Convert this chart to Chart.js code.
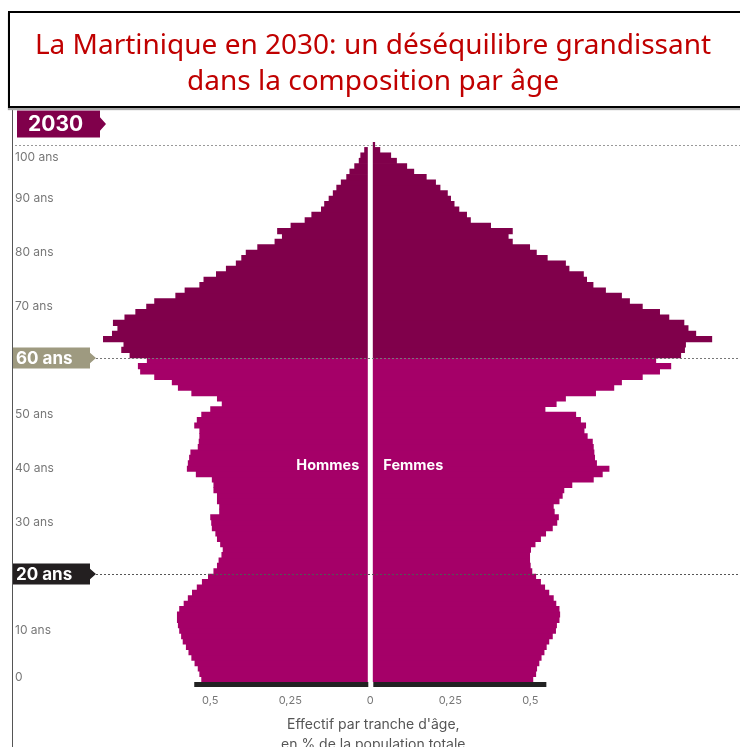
<!DOCTYPE html>
<html>
<head>
<meta charset="utf-8">
<script src="https://cdn.jsdelivr.net/npm/chart.js@4.4.1/dist/chart.umd.min.js"></script>
<style>
  html, body { margin: 0; padding: 0; background: #fff; }
  #wrap { position: relative; width: 740px; height: 747px; overflow: hidden; }
  #frame { position: absolute; left: 12px; top: 106px; width: 1px; height: 660px; background: #555; }
  #title {
    position: absolute; left: 8px; top: 11px; width: 726px; height: 81px;
    padding: 12px 30px 0 0; border: 2px solid #000; box-shadow: 0 2px 1px #aaa;
    background: #fff; color: #c00000; font-family: "Noto Sans", sans-serif;
    font-size: 28px; line-height: 36px; text-align: center; z-index: 2;
  }
  canvas { position: absolute; left: 0; top: 0; }
</style>
</head>
<body>
<div id="wrap">
  <div id="title">La Martinique en 2030: un déséquilibre grandissant<br>dans la composition par âge</div>
  <div id="frame"></div>
  <canvas id="pyramid" width="740" height="747"></canvas>
</div>
<script>
// ages 0 .. 99, one bar each
const AGES = Array.from({ length: 100 }, (_, i) => i)

// % of total population (age 0 first)
const MEN = [
  0.527, 0.533, 0.538, 0.548, 0.558, 0.567, 0.575, 0.585, 0.590, 0.596,
  0.600, 0.603, 0.603, 0.596, 0.582, 0.569, 0.556, 0.541, 0.525, 0.506,
  0.489, 0.478, 0.473, 0.464, 0.460, 0.468, 0.478, 0.483, 0.494, 0.496,
  0.499, 0.471, 0.471, 0.478, 0.478, 0.489, 0.489, 0.494, 0.544, 0.572,
  0.569, 0.565, 0.561, 0.538, 0.535, 0.533, 0.533, 0.549, 0.541, 0.527,
  0.499, 0.463, 0.478, 0.558, 0.600, 0.619, 0.674, 0.718, 0.725, 0.697,
  0.751, 0.777, 0.770, 0.834, 0.806, 0.789, 0.803, 0.767, 0.733, 0.699,
  0.674, 0.608, 0.579, 0.533, 0.520, 0.481, 0.450, 0.419, 0.402, 0.388,
  0.352, 0.298, 0.275, 0.290, 0.248, 0.204, 0.183, 0.153, 0.143, 0.129,
  0.116, 0.105, 0.091, 0.074, 0.064, 0.049, 0.035, 0.030, 0.018, 0.006,
]

const WOMEN = [
  0.508, 0.517, 0.520, 0.527, 0.534, 0.543, 0.550, 0.558, 0.569, 0.579,
  0.582, 0.590, 0.592, 0.590, 0.580, 0.572, 0.558, 0.545, 0.532, 0.517,
  0.505, 0.500, 0.498, 0.498, 0.501, 0.515, 0.532, 0.548, 0.569, 0.583,
  0.588, 0.575, 0.572, 0.590, 0.600, 0.605, 0.630, 0.697, 0.725, 0.746,
  0.707, 0.701, 0.699, 0.697, 0.694, 0.678, 0.668, 0.673, 0.657, 0.642,
  0.546, 0.581, 0.610, 0.704, 0.761, 0.785, 0.850, 0.904, 0.939, 0.892,
  0.970, 0.982, 0.985, 1.067, 1.017, 0.993, 0.980, 0.933, 0.904, 0.850,
  0.810, 0.785, 0.735, 0.696, 0.676, 0.666, 0.621, 0.610, 0.553, 0.519,
  0.498, 0.444, 0.431, 0.444, 0.376, 0.313, 0.301, 0.277, 0.262, 0.251,
  0.241, 0.218, 0.204, 0.175, 0.136, 0.114, 0.082, 0.064, 0.030, 0.014,
]

const X_TICKS = [-0.5, -0.25, 0, 0.25, 0.5]
const AGE_TICKS = [0, 10, 30, 40, 50, 70, 80, 90, 100]
const AGE_TICK_LABELS = ["0", "10 ans", "30 ans", "40 ans", "50 ans", "70 ans", "80 ans", "90 ans", "100 ans"]
const AXIS_TITLE = ["Effectif par tranche d'âge,", "en % de la population totale"]

const SENIOR_AGE = 60
const YOUNG_AGE = 20
const AXIS_EXTENT = 0.55

const DARK = "#80004b"
const PINK = "#a50068"
const TAG_GREY = "#9e9a80"
const TAG_BLACK = "#231f20"
const LABEL_GREY = "#777"
const FONT = "Inter, 'DejaVu Sans', sans-serif"

const barColor = (age) => (age >= SENIOR_AGE ? DARK : PINK)

const formatPct = (value) => String(Math.abs(value)).replace(".", ",")

const drawTag = (ctx, left, right, yMid, h, color, text, size, textX) => {
  ctx.fillStyle = color
  ctx.beginPath()
  ctx.moveTo(left, yMid - h / 2)
  ctx.lineTo(right, yMid - h / 2)
  ctx.lineTo(right, yMid - h / 4)
  ctx.lineTo(right + 6, yMid)
  ctx.lineTo(right, yMid + h / 4)
  ctx.lineTo(right, yMid + h / 2)
  ctx.lineTo(left, yMid + h / 2)
  ctx.closePath()
  ctx.fill()
  ctx.fillStyle = "#fff"
  ctx.font = `bold ${size}px ${FONT}`
  ctx.textAlign = "left"
  ctx.textBaseline = "middle"
  ctx.fillText(text, textX, yMid + 1)
}

const dashed = (ctx, x1, x2, yPos, color) => {
  ctx.strokeStyle = color
  ctx.lineWidth = 1
  ctx.setLineDash([2, 2])
  ctx.beginPath()
  ctx.moveTo(x1, Math.round(yPos) + 0.5)
  ctx.lineTo(x2, Math.round(yPos) + 0.5)
  ctx.stroke()
  ctx.setLineDash([])
}

const pyramidDecor = {
  id: "pyramidDecor",
  afterDatasetsDraw(chart) {
    const { ctx, chartArea, scales } = chart
    const x = scales.x
    const y = scales.y
    const x0 = x.getPixelForValue(0)
    const half = Math.abs(y.getPixelForValue(1) - y.getPixelForValue(0)) / 2
    const edgeY = (age) => y.getPixelForValue(age) + half

    ctx.save()

    // white split between men and women
    ctx.fillStyle = "#fff"
    ctx.fillRect(x0 - 2.5, chartArea.top - 8, 5, chartArea.bottom - chartArea.top + 8)

    // reference lines
    dashed(ctx, 15, chart.width, edgeY(99.5), "#999")
    dashed(ctx, 96, chart.width, edgeY(SENIOR_AGE), "#777")
    dashed(ctx, 96, chart.width, edgeY(YOUNG_AGE), "#555")

    // age labels
    ctx.fillStyle = LABEL_GREY
    ctx.font = `12px ${FONT}`
    ctx.textAlign = "left"
    ctx.textBaseline = "middle"
    AGE_TICKS.forEach((age, i) => {
      const yPos = Math.max(chartArea.top + 15, Math.min(chartArea.bottom - 5, edgeY(age) + 2))
      ctx.fillText(AGE_TICK_LABELS[i], 15, yPos)
    })

    drawTag(ctx, 13, 90, edgeY(SENIOR_AGE), 21, TAG_GREY, `${SENIOR_AGE} ans`, 17, 16)
    drawTag(ctx, 13, 90, edgeY(YOUNG_AGE), 21, TAG_BLACK, `${YOUNG_AGE} ans`, 17, 16)
    drawTag(ctx, 17, 100, chartArea.top - 18, 27, DARK, "2030", 21, 28)

    // series names
    ctx.fillStyle = "#fff"
    ctx.font = `bold 14.5px ${FONT}`
    ctx.textAlign = "right"
    ctx.fillText("Hommes", x0 - 11, edgeY(40))
    ctx.textAlign = "left"
    ctx.fillText("Femmes", x0 + 13, edgeY(40))

    // base bar under the pyramid
    ctx.fillStyle = "#222"
    const left = x.getPixelForValue(-AXIS_EXTENT)
    const right = x.getPixelForValue(AXIS_EXTENT)
    ctx.fillRect(left, chartArea.bottom, x0 - 2 - left, 5)
    ctx.fillRect(x0 + 3, chartArea.bottom, right - x0 - 3, 5)

    // axis title
    ctx.fillStyle = "#555"
    ctx.font = `14px ${FONT}`
    ctx.textAlign = "center"
    ctx.fillText(AXIS_TITLE[0], x0 + 3, chartArea.bottom + 43)
    ctx.fillText(AXIS_TITLE[1], x0 + 3, chartArea.bottom + 63)

    ctx.restore()
  },
}

const canvas = document.getElementById("pyramid")

new Chart(canvas, {
  type: "bar",
  data: {
    labels: AGES,
    datasets: [
      {
        label: "Hommes",
        data: MEN.map((v) => -v),
        backgroundColor: AGES.map(barColor),
        borderWidth: 0,
        barPercentage: 1,
        categoryPercentage: 1,
      },
      {
        label: "Femmes",
        data: WOMEN,
        backgroundColor: AGES.map(barColor),
        borderWidth: 0,
        barPercentage: 1,
        categoryPercentage: 1,
      },
    ],
  },
  options: {
    indexAxis: "y",
    animation: false,
    responsive: false,
    maintainAspectRatio: false,
    layout: { padding: { top: 142, left: 15, right: 0, bottom: 0 } },
    plugins: {
      legend: { display: false },
      tooltip: { enabled: false },
    },
    scales: {
      x: {
        stacked: true,
        min: -1.11,
        max: 1.155,
        grid: { display: false },
        border: { display: false },
        afterBuildTicks: (scale) => {
          scale.ticks = X_TICKS.map((value) => ({ value }))
        },
        afterFit: (scale) => {
          scale.height = 65
        },
        ticks: {
          padding: 4,
          color: LABEL_GREY,
          font: { family: FONT, size: 11 },
          callback: (value) => formatPct(value),
        },
      },
      y: {
        stacked: true,
        reverse: true,
        display: false,
      },
    },
  },
  plugins: [pyramidDecor],
})
</script>
</body>
</html>
